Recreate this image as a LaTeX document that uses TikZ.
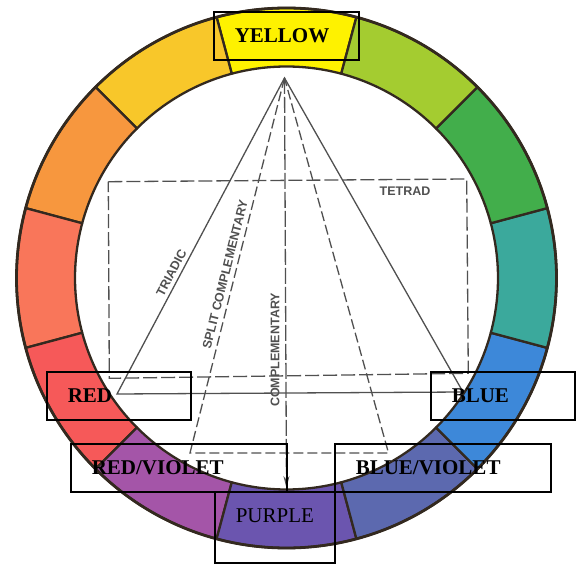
\documentclass[tikz,border=0pt]{standalone}
\usepackage{fontspec}
\setmainfont{Liberation Serif}
\newfontfamily\guidefont{Liberation Sans}
\usetikzlibrary{arrows.meta}

\definecolor{cYellow}{HTML}{FEF200}
\definecolor{cYelOrange}{HTML}{F8C72A}
\definecolor{cOrange}{HTML}{F7973E}
\definecolor{cRedOrange}{HTML}{F9765A}
\definecolor{cRed}{HTML}{F65959}
\definecolor{cRedViolet}{HTML}{A455A8}
\definecolor{cPurple}{HTML}{6B55AF}
\definecolor{cBlueViolet}{HTML}{5C69AF}
\definecolor{cBlue}{HTML}{3D88D9}
\definecolor{cBlueGreen}{HTML}{3BA99C}
\definecolor{cGreen}{HTML}{42AE4B}
\definecolor{cYelGreen}{HTML}{A4CC30}
\definecolor{ringedge}{HTML}{33291F}
\definecolor{guidegray}{HTML}{505050}

\begin{document}
\begin{tikzpicture}[x=1pt,y=1pt,
    hue/.style={draw=ringedge,line width=2.3pt,line join=round},
    colorbox/.style={draw=black,line width=1.6pt,anchor=north west,inner xsep=21pt,inner ysep=0pt,
      text height=30.5pt,text depth=17.5pt,align=left,font=\fontsize{21}{24}\selectfont\bfseries},
    guide/.style={draw=guidegray,line width=1.3pt},
    guidedash/.style={guide,dash pattern=on 10pt off 4pt},
    tag/.style={text=guidegray,inner sep=1pt,font=\guidefont\bfseries\fontsize{12.5}{14}\selectfont}]
\useasboundingbox (0,0) rectangle (576,563);

% colour wheel
\coordinate (hub) at (286.5,285);
\foreach \c [count=\k from 0] in {cYellow,cYelOrange,cOrange,cRedOrange,cRed,cRedViolet,
    cPurple,cBlueViolet,cBlue,cBlueGreen,cGreen,cYelGreen}
  \filldraw[hue,fill=\c,shift={(286.5,285)}] (75+30*\k:270) arc[start angle=75+30*\k,delta angle=30,radius=270]
    -- (105+30*\k:211.5) arc[start angle=105+30*\k,delta angle=-30,radius=211.5] -- cycle;
\draw[ringedge,line width=2.8pt] (hub) circle[radius=270];

% harmonies
\coordinate (apex) at (284.5,485);
\coordinate (red) at (117,169);
\coordinate (blue) at (463,171);
\coordinate (rv) at (190,110);
\coordinate (bv) at (388.5,110);
\coordinate (comp) at (286.5,75);
\coordinate (t1) at (108.3,381.3);
\coordinate (t2) at (466.7,384);
\coordinate (t3) at (468.3,189.7);
\coordinate (t4) at (109.3,184.7);

\draw[guidedash,dash pattern=on 14pt off 4pt] (t1) -- (t2) -- (t3) -- (t4) -- cycle;
\draw[guide] (apex) -- (red) -- (blue) -- cycle;
\draw[guidedash] (apex) -- (rv) -- (bv) -- cycle;
\draw[guidedash,dash pattern=on 16pt off 3pt,-{Stealth[length=12pt,width=6pt]}] (apex) -- (comp);

\path (red) -- (apex) node[tag,sloped,pos=0.37,above=3pt] (triadic) {TRIADIC};
\path (rv) -- (apex) node[tag,sloped,pos=0.47,above=4pt] (split) {SPLIT COMPLEMENTARY};
\node[tag,rotate=90] (complement) at (275,213) {COMPLEMENTARY};
\node[tag] (tetrad) at (405,372) {TETRAD};

% colour names
\node[colorbox,text width=103pt] (yellowbox) at (213,552) {YELLOW};
\node[colorbox,text width=102pt] (redbox) at (46,192) {RED};
\node[colorbox,text width=102pt] (bluebox) at (430,192) {BLUE};
\node[colorbox,text width=174pt] (rvbox) at (70,120) {RED/VIOLET};
\node[colorbox,text width=174pt] (bvbox) at (334,120) {BLUE/VIOLET};
\node[colorbox,text width=78pt,text depth=40.5pt,font=\fontsize{21}{24}\selectfont] (purplebox) at (214,72) {PURPLE};
\end{tikzpicture}
\end{document}
